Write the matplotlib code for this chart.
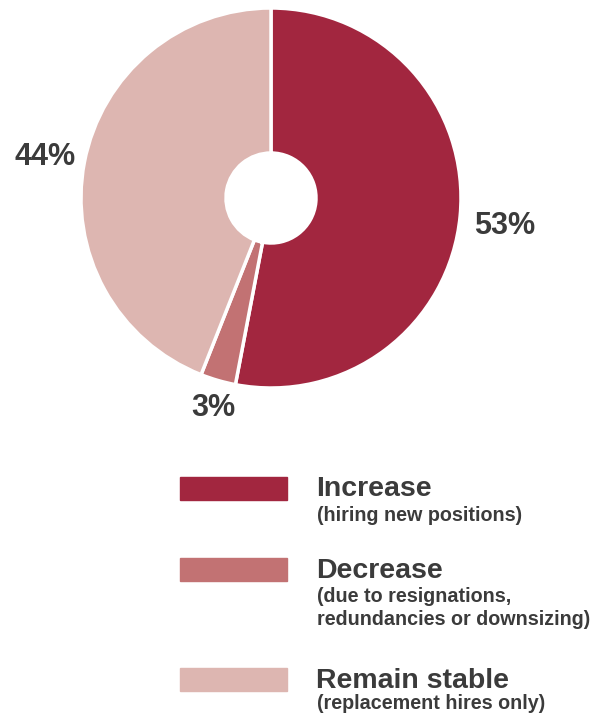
import matplotlib
matplotlib.use('Agg')
import matplotlib.pyplot as plt
from matplotlib.patches import Rectangle

plt.rcParams['font.family'] = ['Liberation Sans', 'DejaVu Sans']

labels = ['Increase', 'Decrease', 'Remain stable']
notes = ['(hiring new positions)',
         '(due to resignations,\nredundancies or downsizing)',
         '(replacement hires only)']
values = [53, 3, 44]
colors = ['#A2263F', '#C27273', '#DDB6B1']
TXT = '#3b3b3b'

W, H = 605, 716
fig = plt.figure(figsize=(W/100, H/100), dpi=100)

# pie: centre (271,198) px, radius 190 px
cx, cy, r = 271, 198, 190
ax = fig.add_axes([(cx-r)/W, (H-cy-r)/H, 2*r/W, 2*r/H])
ax.pie(values, colors=colors, startangle=90, counterclock=False, radius=1,
       wedgeprops=dict(width=1-45/190, edgecolor='white', linewidth=2.5))
ax.set_xlim(-1, 1); ax.set_ylim(-1, 1)
ax.set_aspect('equal')
ax.axis('off')

# percentage labels (pixel positions)
pct_pos = [(505, 226), (213, 408), (45, 157)]
for v, (px, py) in zip(values, pct_pos):
    fig.text(px/W, 1-py/H, f'{v}%', ha='center', va='center',
             fontsize=22, fontweight='bold', color=TXT)

# legend
rows = [(477, 496, [521]), (558, 578, [602, 625]), (668, 688, [709])]
for lab, note, col, (ry, by, nbs) in zip(labels, notes, colors, rows):
    fig.patches.append(Rectangle((180/W, 1-(ry+23)/H), 107/W, 23/H,
                                 transform=fig.transFigure, color=col))
    fig.text(316/W, 1-by/H, lab, ha='left', va='baseline',
             fontsize=20.5, fontweight='bold', color=TXT)
    for line, nb in zip(note.split('\n'), nbs):
        fig.text(317/W, 1-nb/H, line, ha='left', va='baseline',
                 fontsize=14.2, fontweight='bold', color=TXT)

fig.savefig('out.png', dpi=100)
